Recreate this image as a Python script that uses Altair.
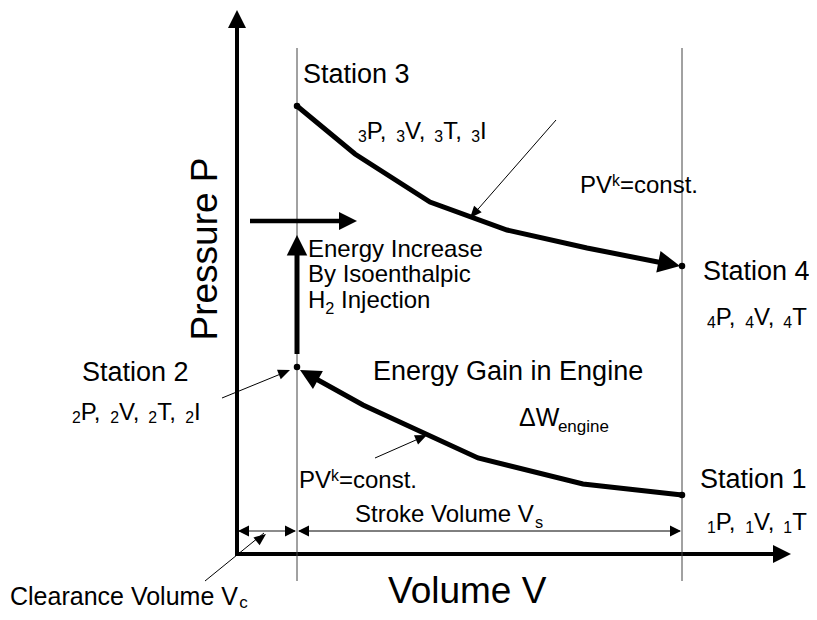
import math
import altair as alt
import pandas as pd

FONT = "Liberation Sans"

# ---------------- data (diagram units: V right of the P axis, P above the V axis) -------------
upper_V = [60, 118, 193, 270, 350, 431]          # Station 3 -> Station 4 (PV^k = const.)
upper_P = [448, 400, 352, 324, 306, 290]
lower_V = [72, 126, 241, 346, 445]               # Station 1 -> Station 2 (PV^k = const.)
lower_P = [179, 149, 96, 70, 59]

station_names = ["Station 1", "Station 2", "Station 3", "Station 4"]
station_V = [445, 60, 60, 445]
station_P = [59, 187, 448, 288]

V_clear = 60      # clearance volume boundary (left thin line)
V_end = 445       # end of stroke (right thin line)
P_dim = 23        # height of the dimension arrows
V_max, P_max = 554, 544   # axis arrow tips

# ---------------- scales ----------------
XS = alt.Scale(domain=[-229, 572], nice=False, zero=False)
YS = alt.Scale(domain=[-58, 546], nice=False, zero=False)


def X(f="V"):
    return alt.X(f"{f}:Q", scale=XS, axis=None)


def Y(f="P"):
    return alt.Y(f"{f}:Q", scale=YS, axis=None)


# ---------------- line segments ----------------
rows = []


def seg(name, vs, ps, w, c):
    for i, (v, p) in enumerate(zip(vs, ps)):
        rows.append(dict(id=name, o=i, V=v, P=p, w=w, c=c))


seg("pax", [0, 0], [-2, 529], 4, "#000000")
seg("vax", [-2, 539], [0, 0], 4, "#000000")
seg("thin1", [V_clear, V_clear], [-27, 506], 1, "#444444")
seg("thin2", [V_end, V_end], [-27, 506], 1, "#444444")
seg("upper", upper_V, upper_P, 5, "#000000")
seg("lower", lower_V, lower_P, 5, "#000000")
seg("inj", [V_clear, V_clear], [200, 306], 5, "#000000")
seg("hor", [13, 108], [333, 333], 4.5, "#000000")
seg("dimc", [2, V_clear - 2], [P_dim, P_dim], 1.5, "#666666")
seg("dims", [V_clear + 2, V_end - 2], [P_dim, P_dim], 1, "#000000")
seg("pc", [-32, 27], [-27, 21], 1, "#000000")
seg("p2", [-15, 51], [156, 183], 1, "#000000")
seg("pl", [138, 188], [96, 118], 1, "#000000")
seg("pu", [319, 235], [434, 338], 1, "#000000")
lines_df = pd.DataFrame(rows)

lines = alt.Chart(lines_df).mark_line(strokeCap="butt", strokeJoin="miter").encode(
    x=X(), y=Y(), detail="id:N", order="o:Q",
    strokeWidth=alt.StrokeWidth("w:Q", scale=None),
    color=alt.Color("c:N", scale=None),
)

# ---------------- arrow heads ----------------
HEAD = "M0,0L-2,-1L-2,1Z"
SLIM = "M0,0L-2.4,-1L-2.4,1Z"
heads_df = pd.DataFrame([
    dict(V=0, P=P_max, a=270, s=324),
    dict(V=V_max, P=0, a=0, s=324),
    dict(V=V_clear, P=319, a=270, s=420),
    dict(V=120, P=333, a=0, s=324),
    dict(V=443, P=288, a=11, s=484),
    dict(V=63, P=184, a=209, s=420),
    dict(V=1, P=P_dim, a=180, s=121),
    dict(V=V_clear - 1, P=P_dim, a=0, s=121),
    dict(V=V_clear + 1, P=P_dim, a=180, s=121),
    dict(V=V_end - 1, P=P_dim, a=0, s=121),
])
slim_df = pd.DataFrame([
    dict(V=29, P=20, a=322, s=100),
    dict(V=53, P=184, a=338, s=100),
    dict(V=190, P=119, a=336, s=100),
    dict(V=233, P=336, a=131, s=100),
])


def heads(df, shape):
    return alt.Chart(df).mark_point(shape=shape, filled=True, opacity=1, color="#000000").encode(
        x=X(), y=Y(),
        size=alt.Size("s:Q", scale=None),
        angle=alt.Angle("a:Q", scale=None),
    )


dots = alt.Chart(pd.DataFrame(dict(name=station_names, V=station_V, P=station_P))).mark_circle(
    size=42, color="#000000", opacity=1).encode(x=X(), y=Y())

# ---------------- text ----------------
CW = {
    "a": .556, "b": .556, "c": .5, "d": .556, "e": .556, "g": .556, "h": .556, "i": .222,
    "j": .222, "k": .5, "l": .222, "m": .833, "n": .556, "o": .556, "p": .556, "r": .333,
    "s": .5, "t": .278, "u": .556, "y": .5, ".": .278, ",": .278, " ": .278, "=": .584,
    "A": .667, "B": .667, "C": .722, "E": .667, "G": .778, "H": .722, "I": .278, "P": .667,
    "S": .667, "T": .611, "V": .667, "W": .944, "\u0394": .612,
}


def tw(s, size):
    return sum(CW.get(ch, .556) for ch in s) * size


trows = []


def label(v, p, runs, size, sub_dp=-6):
    x = v
    for txt, kind in runs:
        if kind == "n":
            fs, dp = size, 0
        elif kind == "pre":
            fs, dp = size * 0.66, -3
        elif kind == "sub":
            fs, dp = size * 0.68, sub_dp
        else:  # sup
            fs, dp = size * 0.66, 7
        lead = len(txt) - len(txt.lstrip(" "))
        x += lead * CW[" "] * fs
        body = txt.strip(" ")
        trows.append(dict(V=x, P=p + dp, t=body, fs=fs))
        x += tw(txt.lstrip(" "), fs)


def state_row(v, p, k, with_i):
    runs = [(k, "pre"), ("P, ", "n"), (k, "pre"), ("V, ", "n"), (k, "pre")]
    if with_i:
        runs += [("T, ", "n"), (k, "pre"), ("I", "n")]
    else:
        runs += [("T", "n")]
    label(v, p, runs, 24)


label(66, 471, [("Station 3", "n")], 27)
state_row(121, 415, "3", True)
label(-155, 173, [("Station 2", "n")], 27)
state_row(-165, 134, "2", True)
label(466, 274, [("Station 4", "n")], 27)
state_row(470, 229, "4", False)
label(463, 66, [("Station 1", "n")], 27)
state_row(470, 24, "1", False)
label(71, 297, [("Energy Increase", "n")], 24)
label(71, 272, [("By Isoenthalpic", "n")], 24)
label(71, 246, [("H", "n"), ("2", "sub"), (" Injection", "n")], 24)
label(136, 174, [("Energy Gain in Engine", "n")], 27)
label(282, 128, [("\u0394W", "n"), ("engine", "sub")], 25)
label(62, 66, [("PV", "n"), ("k", "sup"), ("=const.", "n")], 24)
label(343, 361, [("PV", "n"), ("k", "sup"), ("=const.", "n")], 24)
label(118, 32, [("Stroke Volume V", "n"), ("s", "sub")], 24)
label(-227, -51, [("Clearance Volume V", "n"), ("c", "sub")], 25, sub_dp=-3)
label(151, -49, [("Volume V", "n")], 37)
text_df = pd.DataFrame(trows)

texts = alt.Chart(text_df).mark_text(font=FONT, align="left", baseline="alphabetic",
                                     color="#000000").encode(
    x=X(), y=Y(), text="t:N", size=alt.Size("fs:Q", scale=None))

ylab = alt.Chart(pd.DataFrame(dict(V=[-20], P=[305], t=["Pressure P"]))).mark_text(
    font=FONT, fontSize=37, angle=270, align="center", baseline="alphabetic",
    color="#000000").encode(x=X(), y=Y(), text="t:N")

chart = alt.layer(lines, heads(heads_df, HEAD), heads(slim_df, SLIM), dots, texts, ylab).properties(
    width=801, height=604, padding=0, background="#ffffff",
    autosize=alt.AutoSizeParams(type="none"),
).configure_view(stroke=None)

chart.save("out.html", embed_options={"renderer": "svg", "actions": False})
